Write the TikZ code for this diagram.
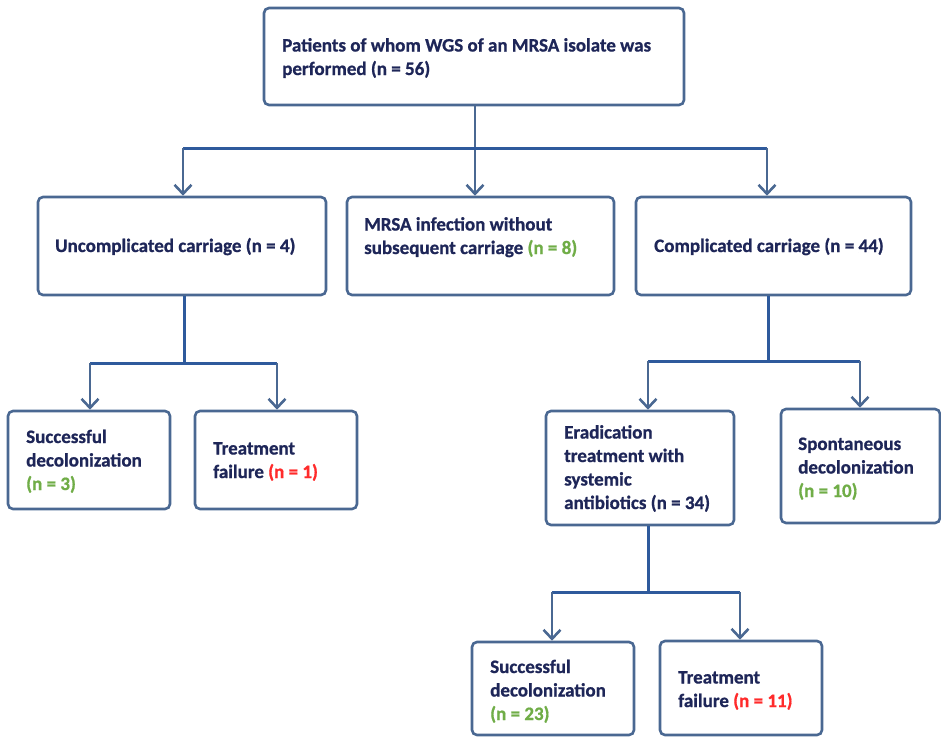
\documentclass[tikz,border=0pt]{standalone}
\usepackage{fontspec}
\setmainfont{Carlito}[BoldFont={Carlito Bold},BoldFeatures={FakeBold=0.8}]
\usetikzlibrary{arrows.meta}
\definecolor{boxc}{HTML}{4A6892}
\definecolor{stemc}{HTML}{2F5A9C}
\definecolor{txtc}{HTML}{1E2658}
\definecolor{grn}{HTML}{70AD47}
\definecolor{rd}{HTML}{FF2B2B}
\newcommand{\G}[1]{\textcolor{grn}{#1}}
\newcommand{\R}[1]{\textcolor{rd}{#1}}
\tikzset{
  fbox/.style={draw=boxc, line width=2.6pt, rounded corners=5pt, fill=white, inner sep=0pt},
  txt/.style={anchor=base west, inner sep=0pt, align=left, text=txtc,
    font=\fontsize{19}{23.5}\selectfont\bfseries},
  stem/.style={draw=stemc, line width=3pt},
  arr/.style={draw=boxc, line width=2.6pt, -{Straight Barb[length=9pt,width=17pt,line width=2.6pt]}},
}
\begin{document}
\begin{tikzpicture}[x=1pt,y=-1pt]
\useasboundingbox (0,0) rectangle (941,737);
% boxes
\node[fbox, minimum width=420pt, minimum height=97pt] (top) at (474,56.5) {};
\node[fbox, minimum width=288pt, minimum height=98pt] (unc) at (182,246) {};
\node[fbox, minimum width=267pt, minimum height=98pt] (mrsa) at (480.5,246) {};
\node[fbox, minimum width=275pt, minimum height=98pt] (comp) at (773.5,246) {};
\node[fbox, minimum width=162pt, minimum height=98pt] (sd1) at (89,460) {};
\node[fbox, minimum width=162pt, minimum height=98pt] (tf1) at (276,460) {};
\node[fbox, minimum width=188pt, minimum height=114pt] (erad) at (640,468) {};
\node[fbox, minimum width=159pt, minimum height=114pt] (spont) at (860.5,466) {};
\node[fbox, minimum width=162pt, minimum height=93pt] (sd2) at (553,688.5) {};
\node[fbox, minimum width=162pt, minimum height=94pt] (tf2) at (741,688) {};
% texts (anchor = baseline of the last line)
\node[txt] (topt) at (282,75) {Patients of whom WGS of an MRSA isolate was\\performed (n = 56)};
\node[txt] (unct) at (55,252) {Uncomplicated carriage (n = 4)};
\node[txt] (mrsat) at (364,254) {MRSA infection without\\subsequent carriage \G{(n = 8)}};
\node[txt] (compt) at (654,252) {Complicated carriage (n = 44)};
\node[txt] (sd1t) at (26,490) {Successful\\decolonization\\\G{(n = 3)}};
\node[txt] (tf1t) at (213,478) {Treatment\\failure \R{(n = 1)}};
\node[txt] (eradt) at (564,509) {Eradication\\treatment with\\systemic\\antibiotics (n = 34)};
\node[txt] (spontt) at (798,497) {Spontaneous\\decolonization\\\G{(n = 10)}};
\node[txt] (sd2t) at (490,720) {Successful\\decolonization\\\G{(n = 23)}};
\node[txt] (tf2t) at (678,707) {Treatment\\failure \R{(n = 11)}};

% level 1 -> level 2
\coordinate (j1) at (475,148);
\coordinate (l1) at (183,148);
\coordinate (r1) at (767,148);
\draw[arr] (top.south -| j1) -- (j1 |- mrsa.north);
\draw[stem] (l1) -- (r1);
\draw[arr] (l1) -- (l1 |- unc.north);
\draw[arr] (r1) -- (r1 |- comp.north);

% uncomplicated -> outcomes
\coordinate (j2) at (184,363);
\coordinate (l2) at (90,363);
\coordinate (r2) at (277,363);
\draw[stem] (unc.south -| j2) -- (j2);
\draw[stem] (l2) -- (r2);
\draw[arr] (l2) -- (l2 |- sd1.north);
\draw[arr] (r2) -- (r2 |- tf1.north);

% complicated -> outcomes
\coordinate (j3) at (768,361);
\coordinate (l3) at (648,361);
\coordinate (r3) at (860,361);
\draw[stem] (comp.south -| j3) -- (j3);
\draw[stem] (l3) -- (r3);
\draw[arr] (l3) -- (l3 |- erad.north);
\draw[arr] (r3) -- (r3 |- spont.north);

% eradication -> outcomes
\coordinate (j4) at (648,592);
\coordinate (l4) at (552,592);
\coordinate (r4) at (740,592);
\draw[stem] (erad.south -| j4) -- (j4);
\draw[stem] (l4) -- (r4);
\draw[arr] (l4) -- (l4 |- sd2.north);
\draw[arr] (r4) -- (r4 |- tf2.north);
\end{tikzpicture}
\end{document}
